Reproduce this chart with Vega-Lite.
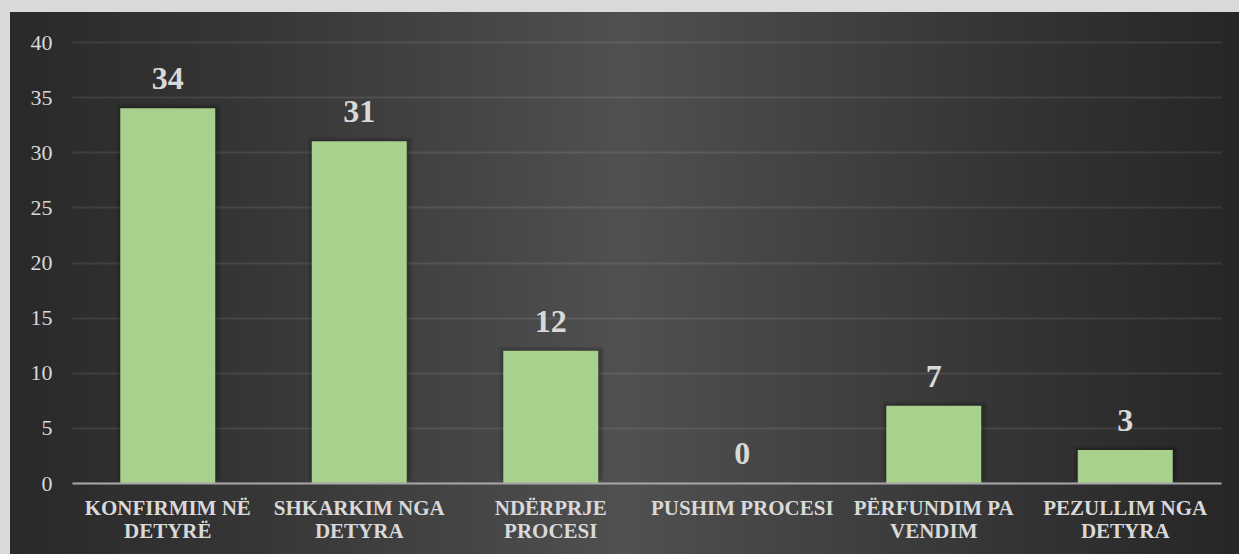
{
  "$schema": "https://vega.github.io/schema/vega-lite/v6.json",
  "width": 1229,
  "height": 542,
  "autosize": {"type": "none"},
  "padding": {"left": 10, "top": 12, "right": 0, "bottom": 0},
  "background": "#d9d9d9",
  "config": {
    "view": {
      "stroke": null,
      "fill": {
        "gradient": "linear", "x1": 0, "y1": 0, "x2": 1, "y2": 0,
        "stops": [
          {"offset": 0, "color": "#292929"},
          {"offset": 0.2, "color": "#363636"},
          {"offset": 0.5, "color": "#505050"},
          {"offset": 0.8, "color": "#353535"},
          {"offset": 1, "color": "#262626"}
        ]
      }
    }
  },
  "data": {
    "values": [
      {"category": "KONFIRMIM NË DETYRË", "count": 34},
      {"category": "SHKARKIM NGA DETYRA", "count": 31},
      {"category": "NDËRPRJE PROCESI", "count": 12},
      {"category": "PUSHIM PROCESI", "count": 0},
      {"category": "PËRFUNDIM PA VENDIM", "count": 7},
      {"category": "PEZULLIM NGA DETYRA", "count": 3}
    ]
  },
  "encoding": {
    "x": {
      "field": "category", "type": "nominal", "sort": null,
      "scale": {"range": [62, 1211], "paddingInner": 0.504, "paddingOuter": 0.252},
      "axis": {
        "title": null, "orient": "bottom", "offset": -71,
        "domainColor": "#a6a6a6", "domainWidth": 2,
        "ticks": false, "tickSize": 0, "grid": false,
        "labelPadding": 14, "labelFont": "Liberation Serif", "labelFontWeight": "bold",
        "labelFontSize": 21, "labelColor": "#d9d9d9", "labelAngle": 0, "labelLimit": 400,
        "labelLineHeight": 23, "labelBaseline": "top", "labelOverlap": false, "labelBound": false,
        "labelExpr": "datum.value == 'PUSHIM PROCESI' ? datum.value : [slice(datum.value, 0, lastindexof(datum.value, ' ')), slice(datum.value, lastindexof(datum.value, ' ') + 1)]",
        "zindex": 1
      }
    },
    "y": {
      "field": "count", "type": "quantitative",
      "scale": {"domain": [0, 40], "range": [471, 30], "nice": false},
      "axis": {
        "title": null, "offset": -44, "domain": false, "ticks": false, "tickSize": 0,
        "values": [0, 5, 10, 15, 20, 25, 30, 35, 40],
        "labelFont": "Liberation Serif", "labelFontSize": 22, "labelColor": "#d9d9d9", "labelPadding": 2,
        "grid": true, "gridColor": "#ffffff", "gridOpacity": 0.09, "gridWidth": 2
      }
    }
  },
  "layer": [
    {"mark": {"type": "bar", "color": "#000000", "opacity": 0.1, "width": {"band": 1.1}, "xOffset": 1, "yOffset": -4}},
    {"mark": {"type": "bar", "color": "#000000", "opacity": 0.12, "width": {"band": 1.05}, "xOffset": 1, "yOffset": -2}},
    {"mark": {"type": "bar", "color": "#a9d18e"}},
    {
      "mark": {"type": "text", "baseline": "alphabetic", "dy": -19, "font": "Liberation Serif", "fontWeight": "bold", "fontSize": 32, "color": "#d9d9d9"},
      "encoding": {"text": {"field": "count", "type": "quantitative"}}
    }
  ]
}
